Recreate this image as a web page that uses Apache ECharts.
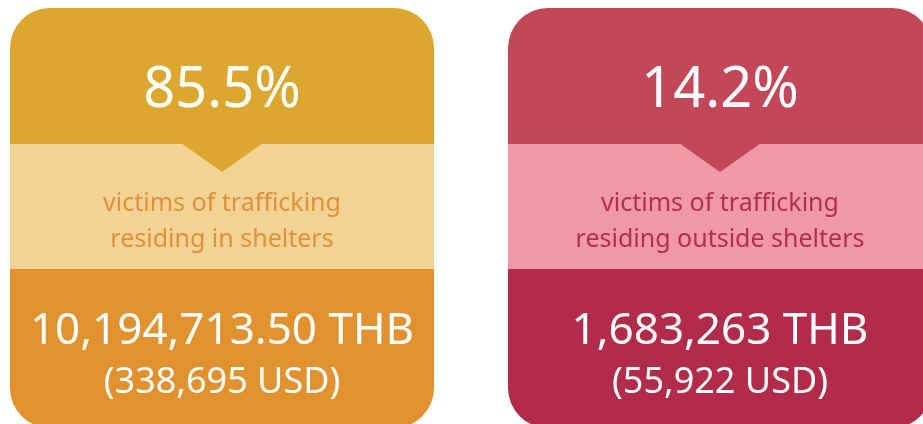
<!DOCTYPE html>
<html>
<head>
<meta charset="utf-8">
<script src="https://cdn.jsdelivr.net/npm/echarts@6/dist/echarts.min.js"></script>
<style>
  html, body { margin: 0; padding: 0; background: #fff; }
  #chart { width: 923px; height: 424px; }
</style>
</head>
<body>
<div id="chart"></div>
<script>
// one card per group of victims
const groups = ['in shelters', 'outside shelters'];
const shares = [85.5, 14.2];
const descLine1 = ['victims of trafficking', 'victims of trafficking'];
const descLine2 = ['residing in shelters', 'residing outside shelters'];
const amountsTHB = ['10,194,713.50', '1,683,263'];
const amountsUSD = ['338,695', '55,922'];

// palette per card: top band, middle band, bottom band, middle text
const palettes = [
    { top: '#dca72e', mid: '#f2d393', bottom: '#e2912f', text: '#e0913a' },
    { top: '#c44759', mid: '#ef98a7', bottom: '#b22b4a', text: '#b32f4d' }
];

const FONT = '"Noto Sans", sans-serif';

const chart = echarts.init(document.getElementById('chart'));

function renderCard(params, api) {
    const i = api.value(0);
    const cx = api.coord([i, 0])[0];
    const pal = palettes[i];
    const half = 212;
    const left = cx - half;
    const w = half * 2;
    const top = 8, midTop = 144, botTop = 269, bottom = 428;

    const txt = (text, y, size, fill) => ({
        type: 'text',
        style: {
            text: text, x: cx, y: y,
            fill: fill, fontSize: size, fontFamily: FONT,
            align: 'center', verticalAlign: 'middle'
        }
    });

    return {
        type: 'group',
        children: [
            { type: 'rect', shape: { x: left, y: top, width: w, height: midTop - top, r: [40, 40, 0, 0] }, style: { fill: pal.top } },
            { type: 'rect', shape: { x: left, y: midTop, width: w, height: botTop - midTop }, style: { fill: pal.mid } },
            { type: 'rect', shape: { x: left, y: botTop, width: w, height: bottom - botTop, r: [0, 0, 40, 40] }, style: { fill: pal.bottom } },
            { type: 'polygon', shape: { points: [[cx - 41, midTop - 1], [cx + 41, midTop - 1], [cx, 172]] }, style: { fill: pal.top } },
            txt(shares[i].toFixed(1) + '%', 91, 56, '#ffffff'),
            txt(descLine1[i], 204, 25, pal.text),
            txt(descLine2[i], 240, 25, pal.text),
            txt(amountsTHB[i] + ' THB', 331, 44, '#ffffff'),
            txt('(' + amountsUSD[i] + ' USD)', 383, 36, '#ffffff')
        ]
    };
}

const option = {
    animation: false,
    backgroundColor: '#ffffff',
    grid: { left: 0, right: 0, top: 0, bottom: 0 },
    // card index 0 sits at x=222px, index 1 at x=720px
    xAxis: { type: 'value', min: -0.4458, max: 1.4076, show: false },
    yAxis: { type: 'value', min: 0, max: 1, show: false },
    series: [{
        type: 'custom',
        data: groups.map((g, i) => [i]),
        renderItem: renderCard
    }]
};

chart.setOption(option);
window.addEventListener('resize', () => chart.resize());
</script>
</body>
</html>
